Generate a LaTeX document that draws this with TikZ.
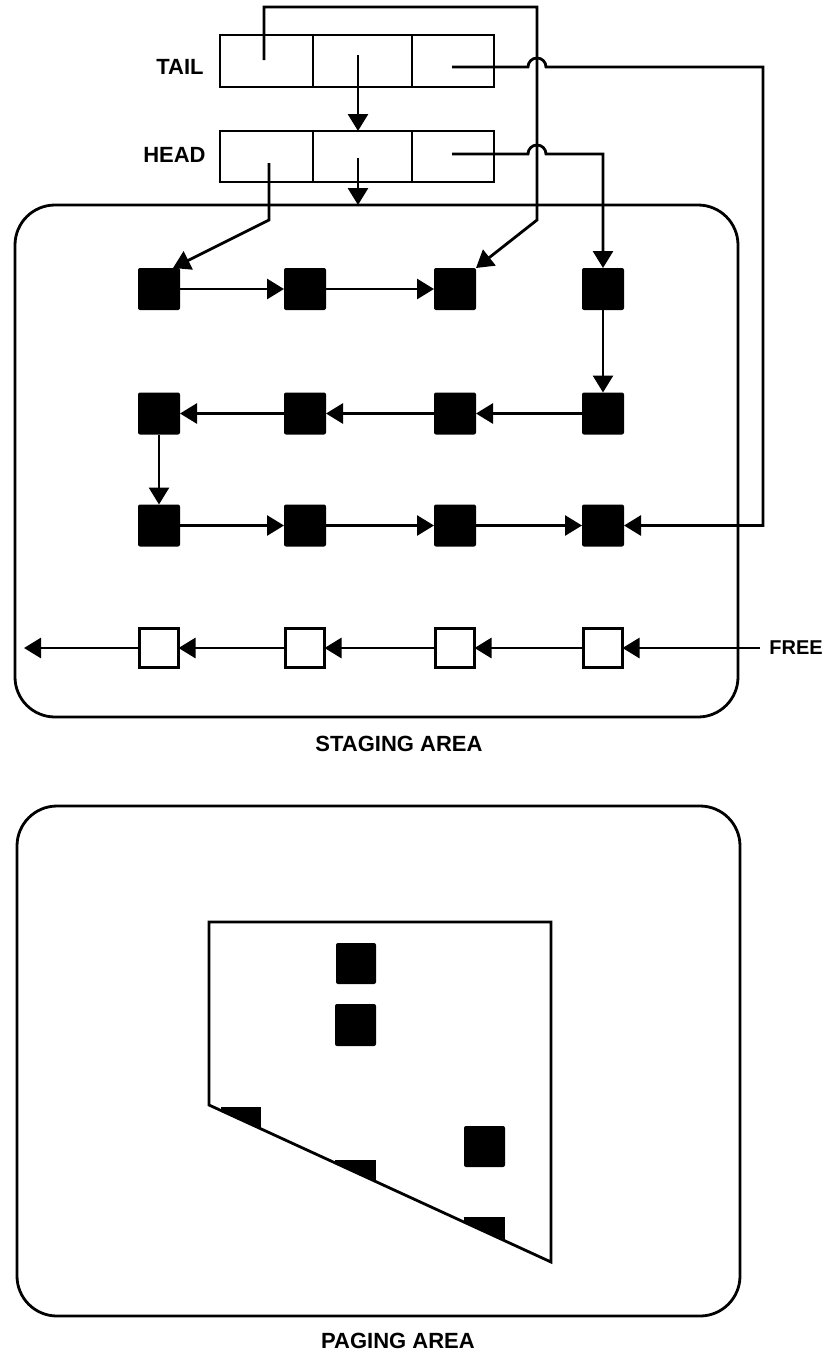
\documentclass[tikz,border=0pt]{standalone}
\usepackage{fontspec}
\setmainfont{Liberation Sans}
\usetikzlibrary{arrows.meta}
\begin{document}
\begin{tikzpicture}[x=1pt,y=-1pt,
  line width=2.8pt,
  lbl/.style={font=\fontsize{22}{26}\selectfont\bfseries, inner sep=0pt},
  cell/.style={draw, inner sep=0pt, outer sep=0pt, minimum height=52pt},
  area/.style={draw, rounded corners=40pt, inner sep=0pt, outer sep=0pt},
  blk/.style={fill=black, rounded corners=2pt, minimum size=42pt, inner sep=0pt, outer sep=0pt},
  wht/.style={draw, fill=white, minimum size=39pt, inner sep=0pt, outer sep=0pt, line width=2.4pt},
  link/.style={-{Triangle[length=17pt,width=20pt]}}
  ]
\useasboundingbox (0,0) rectangle (825,1358);

% queue descriptors
\node[cell, minimum width=93pt] (t1) at (266.5,61) {};
\node[cell, minimum width=99pt] (t2) at (362.5,61) {};
\node[cell, minimum width=82pt] (t3) at (453,61) {};
\node[cell, minimum width=93pt, minimum height=51pt] (h1) at (266.5,156.5) {};
\node[cell, minimum width=99pt, minimum height=51pt] (h2) at (362.5,156.5) {};
\node[cell, minimum width=82pt, minimum height=51pt] (h3) at (453,156.5) {};
\node[lbl, anchor=east] (tail) at (205,67) {TAIL};
\node[lbl, anchor=east] (head) at (207,155) {HEAD};

% pointer origins inside the cells
\coordinate (tp1) at (264,60);
\coordinate (tp2) at (358,55);
\coordinate (tp3) at (452,67);
\coordinate (hp1) at (269,163);
\coordinate (hp2) at (358,158);
\coordinate (hp3) at (452,154);

% staging area
\node[area, minimum width=723pt, minimum height=512pt] (stage) at (376.5,461) {};
\node[lbl] (stlbl) at (399,744) {STAGING AREA};

% queued pages
\foreach \c/\x in {1/159,2/305,3/455,4/603}{
  \node[blk] (s1\c) at (\x,289) {};
  \node[blk] (s2\c) at (\x,413.5) {};
  \node[blk] (s3\c) at (\x,525.5) {};
  \node[wht] (w\c) at (\x,648) {};
}
\coordinate (s11in) at ([xshift=-7pt]s11.north east);

% chain links
\draw[link] (s11) -- (s12);
\draw[link] (s12) -- (s13);
\draw[link] (s14) -- (s24);
\draw[link] (s24) -- (s23);
\draw[link] (s23) -- (s22);
\draw[link] (s22) -- (s21);
\draw[link] (s21) -- (s31);
\draw[link] (s31) -- (s32);
\draw[link] (s32) -- (s33);
\draw[link] (s33) -- (s34);

% descriptor pointers
\draw[link] (tp2) -- (tp2 |- h2.north);
\draw[link] (hp2) -- (hp2 |- stage.north);
\draw[link] (tp1) -- (264,7) -- (537,7) -- (537,220) -- (s13.north east);
\draw[link] (hp1) -- (269,220) -- (s11in);
\draw[link] (tp3) -- (528,67) arc[start angle=180,end angle=0,radius=9pt] -- (763,67) |- (s34.east);
\draw[link] (hp3) -- (528,154) arc[start angle=180,end angle=0,radius=9pt] -| (s14.north);

% free list
\node[lbl, anchor=west, font=\fontsize{20}{24}\selectfont\bfseries] (free) at (768,648) {FREE};
\coordinate (exit) at (24,648);
\draw[link, shorten <=8pt] (free.west) -- (w4);
\draw[link] (w4) -- (w3);
\draw[link] (w3) -- (w2);
\draw[link] (w2) -- (w1);
\draw[link] (w1) -- (exit);

% paging area
\node[area, minimum width=723pt, minimum height=510pt] (page) at (378.5,1061) {};
\node[lbl] (pglbl) at (398,1341) {PAGING AREA};
\draw (209,922) -- (551,922) -- (551,1262) -- (209,1105) -- cycle;
\begin{scope}
  \clip (209,922) -- (551,922) -- (551,1262) -- (209,1105) -- cycle;
  \fill[rounded corners=2pt] (336,943) rectangle (376,984);
  \fill[rounded corners=2pt] (335,1004) rectangle (376,1046);
  \fill[rounded corners=2pt] (464,1126) rectangle (505,1167);
  \fill (221,1107) rectangle (261,1148);
  \fill (335,1160) rectangle (376,1200);
  \fill (464,1217) rectangle (505,1258);
\end{scope}
\end{tikzpicture}
\end{document}
